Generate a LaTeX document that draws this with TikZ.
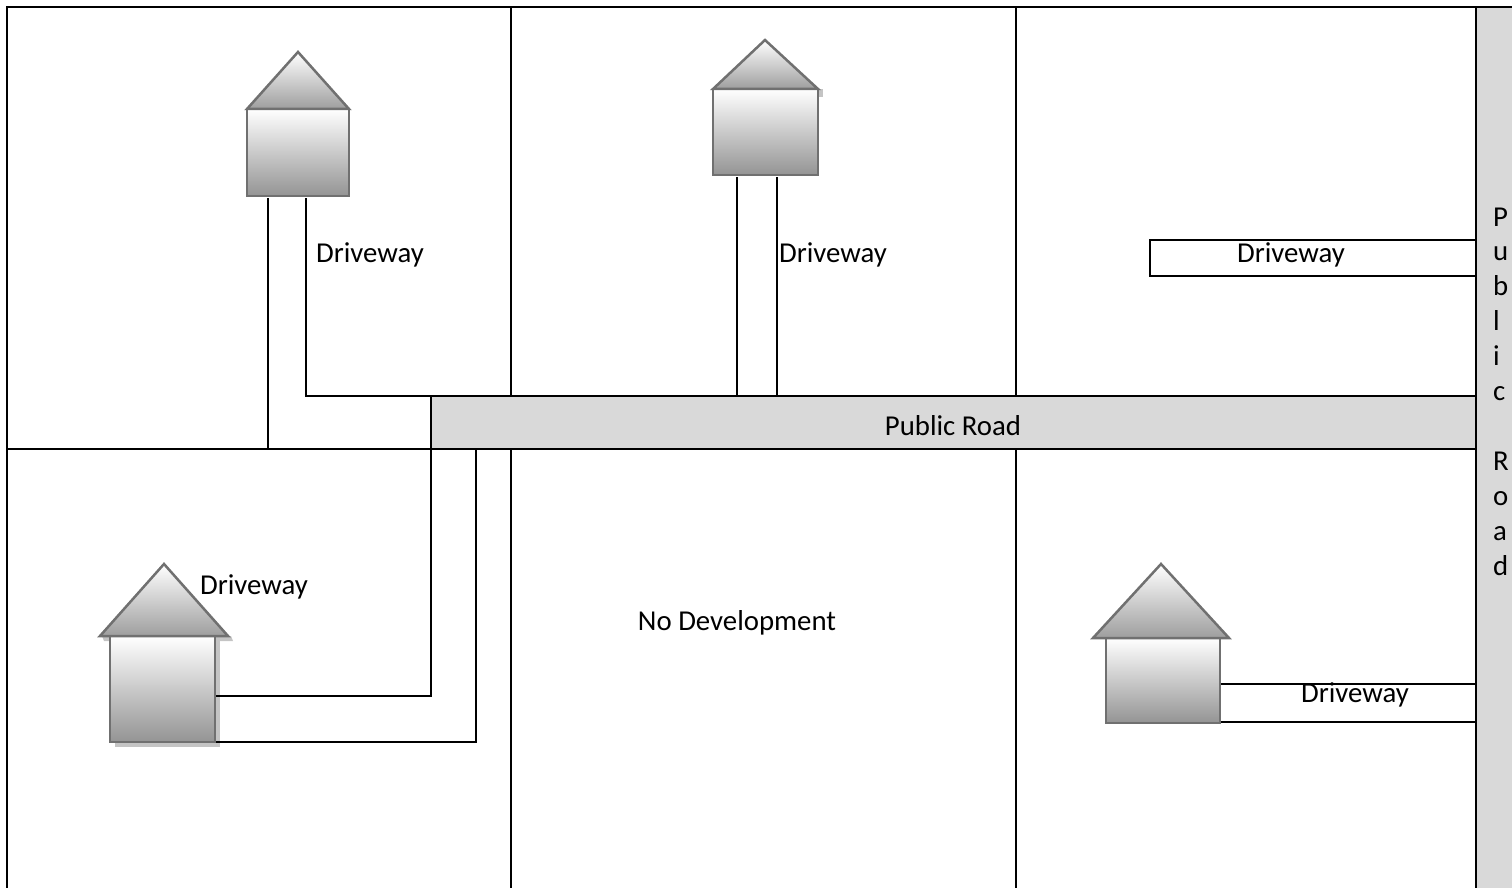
\documentclass[tikz,border=0pt]{standalone}
\usepackage{fontspec}
\setmainfont{Carlito}
\definecolor{roadgray}{HTML}{D9D9D9}
\definecolor{housestroke}{HTML}{707070}
\definecolor{shadowgray}{HTML}{C4C4C4}
\begin{document}
\begin{tikzpicture}[x=1pt,y=-1pt,
  line/.style={draw=black,line width=2pt},
  lbl/.style={font=\fontsize{28.8}{35}\selectfont,inner sep=0pt,anchor=base},
  roofshape/.style={draw=housestroke,line width=2.5pt,line join=miter,top color=white,bottom color=black!38},
  bodyshape/.style={draw=housestroke,line width=2.5pt,top color=white,bottom color=black!42},
  shadowshape/.style={fill=shadowgray,draw=none}]
\useasboundingbox (0,0) rectangle (1512,888);
% vertical public road
\fill[roadgray] (1476,7) rectangle (1512,888);
% horizontal public road
\node[fill=roadgray,draw=none,minimum width=1045pt,minimum height=53pt,inner sep=0pt,anchor=north west] (road) at (431,396) {};
\node[lbl] (roadlbl) at (953,435) {Public Road};
% frame
\draw[line] (7,888) -- (7,7) -- (1512,7);
\draw[line] (1476,7) -- (1476,888);
\draw[line] (511,7) -- (511,396);
\draw[line] (1016,7) -- (1016,396);
\draw[line] (511,449) -- (511,888);
\draw[line] (1016,449) -- (1016,888);
\draw[line] (7,449) -- (1476,449);
\draw[line] (431,396) -- (1476,396);
\draw[line] (431,396) -- (431,449);
% vertical road label
\foreach \ch [count=\i from 0] in {P,u,b,l,i,c,{},R,o,a,d}{
  \node[lbl,anchor=base west] (vr\i) at (1493,226+34.9*\i) {\ch};
}
% ---------- house 1 (top left)
\coordinate (h1bl) at (247,196);
\coordinate (h1br) at (349,196);
\draw[bodyshape] (247,109) rectangle (349,196);
\draw[roofshape] (247,109) -- (298,52) -- (349,109) -- cycle;
\draw[line] (268,198) -- (268,449);
\draw[line] (306,198) -- (306,396) -- (431,396);
\node[lbl] (d1) at (370,262) {Driveway};
% ---------- house 2 (top middle)
\fill[shadowgray] (716,89) rectangle (823,97);
\draw[bodyshape] (713,89) rectangle (818,175);
\draw[roofshape] (713,89) -- (765,40) -- (818,89) -- cycle;
\draw[line] (737,177) -- (737,396);
\draw[line] (777,177) -- (777,396);
\node[lbl] (d2) at (833,262) {Driveway};
% ---------- top right driveway
\draw[line] (1476,240) -- (1150,240) -- (1150,276) -- (1476,276);
\node[lbl] (d3) at (1291,262) {Driveway};
% ---------- house 3 (bottom left)
\fill[shadowgray] (115,641) rectangle (220,747);
\fill[shadowgray] (104,641) -- (233,641) -- (231,636) -- (102,636) -- cycle;
\draw[bodyshape] (110,636) rectangle (215,742);
\draw[roofshape] (100,636) -- (164,564) -- (228,636) -- cycle;
\draw[line] (216,696) -- (431,696) -- (431,449);
\draw[line] (216,742) -- (476,742) -- (476,449);
\node[lbl] (d4) at (254,594) {Driveway};
% ---------- no development
\node[lbl] (nodev) at (737,630) {No Development};
% ---------- house 4 (bottom right)
\draw[bodyshape] (1106,638) rectangle (1220,723);
\draw[roofshape] (1093,638) -- (1161,564) -- (1229,638) -- cycle;
\draw[line] (1221,684) -- (1476,684);
\draw[line] (1221,722) -- (1476,722);
\node[lbl] (d5) at (1355,702) {Driveway};
\end{tikzpicture}
\end{document}
